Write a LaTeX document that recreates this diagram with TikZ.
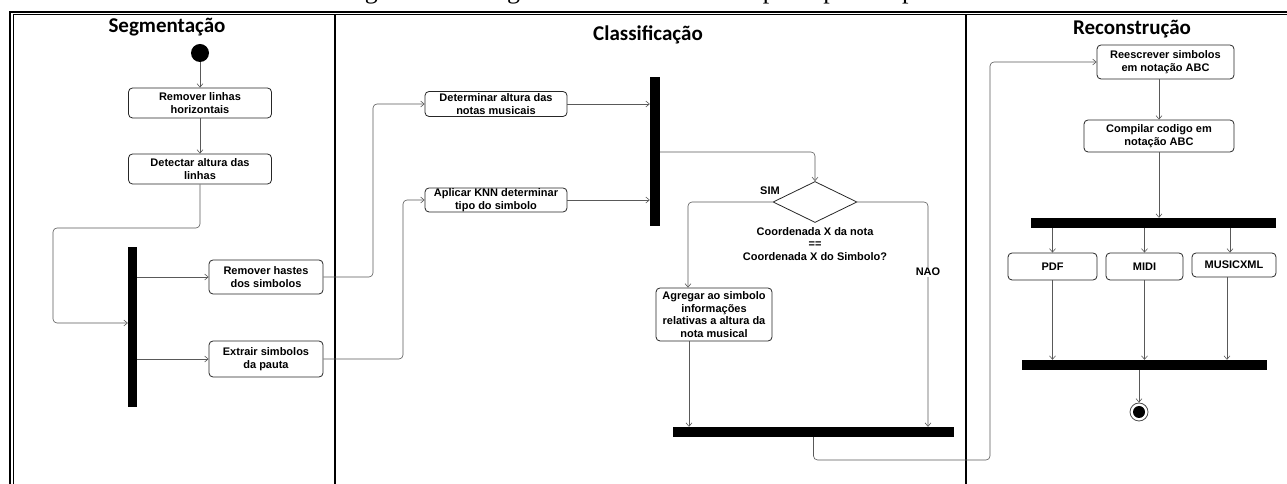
\documentclass[tikz,border=0pt]{standalone}
\usepackage{fontspec}
\setmainfont{Liberation Sans}
\newfontfamily\titlefont{Carlito}
\newfontfamily\captionfont{Liberation Serif}
\usetikzlibrary{shapes.geometric,arrows.meta}

\tikzset{
  LaneStyle/.style={anchor=base, inner sep=0pt, font=\titlefont\bfseries\fontsize{21}{24}\selectfont},
  ActionStyle/.style={draw=black!85, rounded corners=4pt, line width=0.8pt, align=center, inner sep=0pt,
    font=\bfseries\fontsize{11}{12.5}\selectfont},
  BarStyle/.style={fill=black, inner sep=0pt},
  StartStyle/.style={circle, fill=black, minimum size=18pt, inner sep=0pt},
  EndStyle/.style={circle, draw=black!70, line width=0.8pt, minimum size=18pt, inner sep=0pt},
  DecisionStyle/.style={diamond, draw=black!85, line width=0.8pt, aspect=2, inner sep=0pt,
    minimum width=84pt, minimum height=41pt},
  LabelStyle/.style={inner sep=1pt, align=center, font=\bfseries\fontsize{11}{12.5}\selectfont}
}

\begin{document}
\begin{tikzpicture}[x=1pt,y=1pt]
\useasboundingbox (0pt,0pt) rectangle (1287pt,484pt);
\begin{scope}
\clip (0pt,0pt) rectangle (1287pt,484pt);
\node[anchor=base, inner sep=0pt, font=\captionfont\fontsize{26}{30}\selectfont] (cap) at (640pt,485.5pt) {Figura 14 – Diagrama de atividades das principais etapas};
\end{scope}

\draw[line width=2pt] (10pt,0pt) -- (10pt,472pt) -- (1287pt,472pt);
\draw[line width=0.8pt] (13.3pt,0pt) -- (13.3pt,469.5pt) -- (1287pt,469.5pt);
\draw[line width=1.2pt] (335pt,0pt) -- (335pt,469.5pt);
\draw[line width=1.2pt] (966pt,0pt) -- (966pt,469.5pt);

\node[LaneStyle] (t1) at (167pt,451pt) {Segmentação};
\node[LaneStyle] (t2) at (648pt,443pt) {Classificação};
\node[LaneStyle] (t3) at (1132pt,449pt) {Reconstrução};

\node[StartStyle] (s0) at (200pt,431pt) {};
\node[ActionStyle, minimum width=143pt, minimum height=30pt] (s1) at (200pt,381pt) {Remover linhas\\horizontais};
\node[ActionStyle, minimum width=143pt, minimum height=30pt] (s2) at (200pt,315pt) {Detectar altura das\\linhas};
\node[BarStyle, minimum width=9pt, minimum height=160pt] (f1) at (132.5pt,157pt) {};
\node[ActionStyle, minimum width=114pt, minimum height=34pt] (s3) at (266pt,207pt) {Remover hastes\\dos simbolos};
\node[ActionStyle, minimum width=114pt, minimum height=36pt] (s4) at (266pt,125pt) {Extrair simbolos\\da pauta};

\node[ActionStyle, minimum width=142pt, minimum height=25pt] (c1) at (496pt,380pt) {Determinar altura das\\notas musicais};
\node[ActionStyle, minimum width=142pt, minimum height=24pt] (c2) at (496pt,284pt) {Aplicar KNN determinar\\tipo do simbolo};
\node[BarStyle, minimum width=10pt, minimum height=149pt] (f2) at (655pt,332.5pt) {};
\node[DecisionStyle] (d1) at (815pt,282pt) {};
\node[ActionStyle, minimum width=116pt, minimum height=53pt] (c3) at (714pt,169.5pt) {Agregar ao simbolo\\informações\\relativas a altura da\\nota musical};
\node[BarStyle, minimum width=281pt, minimum height=10pt] (f3) at (813.5pt,52pt) {};

\node[ActionStyle, minimum width=137pt, minimum height=34pt] (r1) at (1165.5pt,422pt) {Reescrever simbolos\\em notação ABC};
\node[ActionStyle, minimum width=150pt, minimum height=32pt] (r2) at (1159pt,348pt) {Compilar codigo em\\notação ABC};
\node[BarStyle, minimum width=245pt, minimum height=10pt] (f4) at (1153.5pt,261pt) {};
\node[ActionStyle, minimum width=89pt, minimum height=27pt] (o1) at (1052.5pt,217.5pt) {PDF};
\node[ActionStyle, minimum width=77pt, minimum height=27pt] (o2) at (1144.5pt,217.5pt) {MIDI};
\node[ActionStyle, minimum width=84pt, minimum height=24pt] (o3) at (1234pt,219pt) {MUSICXML};
\node[BarStyle, minimum width=245pt, minimum height=10pt] (f5) at (1144.5pt,119pt) {};
\node[EndStyle] (e1) at (1139pt,72pt) {};
\fill (e1.center) circle (6pt);

\tikzset{EdgeStyle/.style={draw=black!65, line width=0.6pt, rounded corners=4pt, -{Straight Barb[length=3.5pt,width=6pt]}}}
\draw[EdgeStyle] (s0) -- (s1);
\draw[EdgeStyle] (s1) -- (s2);
\draw[EdgeStyle] (s2.south) |- (53pt,256pt) |- ([yshift=4pt]f1.west);
\draw[EdgeStyle] (f1.east |- s3) -- (s3);
\draw[EdgeStyle] (f1.east |- s4) -- (s4);
\draw[EdgeStyle] (s3.east) -| (373pt,0pt |- c1) -- (c1);
\draw[EdgeStyle] (s4.east) -| (403pt,0pt |- c2) -- (c2);
\draw[EdgeStyle] (c1) -- (f2.west |- c1);
\draw[EdgeStyle] (c2) -- (f2.west |- c2);
\draw[EdgeStyle] (f2.east |- 0pt,332pt) -| (d1);
\draw[EdgeStyle] (d1.west) -| (688pt,0pt |- c3.north);
\draw[EdgeStyle] (d1.east) -| (928pt,0pt |- f3.north);
\draw[EdgeStyle] (c3.south -| 689pt,0pt) -- (689pt,0pt |- f3.north);
\draw[EdgeStyle] (f3.south) |- (990pt,24pt) |- (r1);
\draw[EdgeStyle] (r2 |- r1.south) -- (r2);
\draw[EdgeStyle] (r2) -- (r2 |- f4.north);
\draw[EdgeStyle] (f4.south -| o1) -- (o1);
\draw[EdgeStyle] (f4.south -| o2) -- (o2);
\draw[EdgeStyle] (f4.south -| 1230pt,0pt) -- (1230pt,0pt |- o3.north);
\draw[EdgeStyle] (o1) -- (o1 |- f5.north);
\draw[EdgeStyle] (o2) -- (o2 |- f5.north);
\draw[EdgeStyle] (o3.south -| 1227pt,0pt) -- (1227pt,0pt |- f5.north);
\draw[EdgeStyle] (f5.south -| e1) -- (e1);

\node[LabelStyle] (l1) at (770pt,293pt) {SIM};
\node[LabelStyle, fill=white] (l2) at (928pt,212pt) {NAO};
\node[LabelStyle] (l3) at (815pt,240pt) {Coordenada X da nota\\==\\Coordenada X do Simbolo?};
\end{tikzpicture}
\end{document}
